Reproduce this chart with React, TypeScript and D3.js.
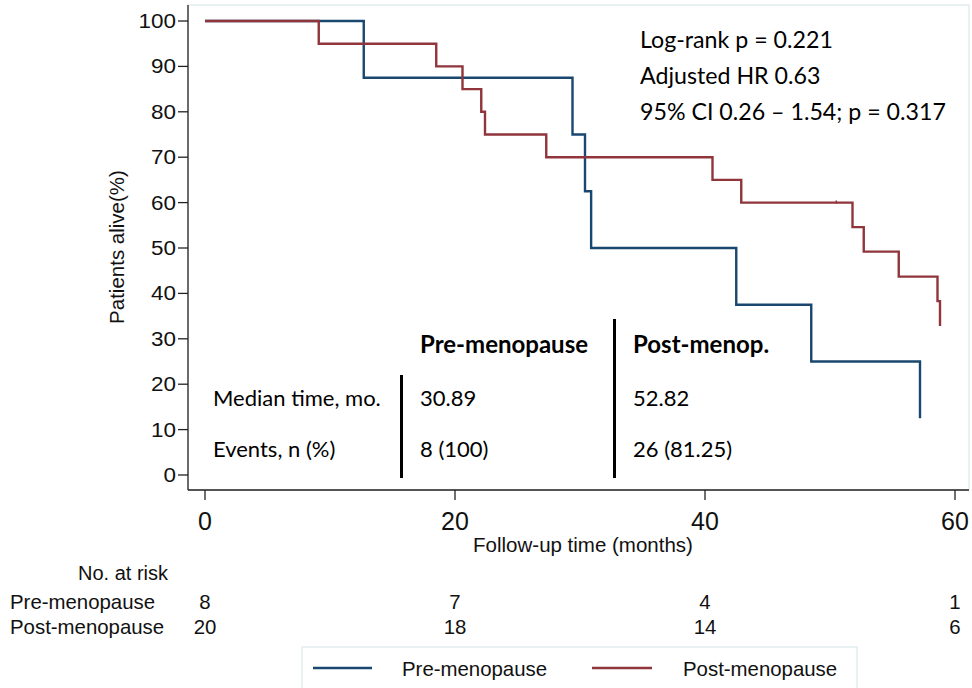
import React from 'react';
import * as d3 from 'd3';

const groups = ['Pre-menopause', 'Post-menopause'];
const preTimes = [0, 12.7, 29.4, 30.4, 30.89, 42.5, 48.5, 57.2];
const preSurv = [100, 87.5, 75, 62.5, 50, 37.5, 25, 12.5];
const postTimes = [0, 9.1, 18.5, 20.6, 22.1, 22.4, 27.3, 40.6, 42.9, 51.8, 52.7, 55.5, 58.6, 58.8];
const postSurv = [100, 95, 90, 85, 80, 75, 70, 65, 60, 54.6, 49.2, 43.7, 38.3, 32.8];
const postCensorTimes = [50.5];
const postCensorSurv = [60];
const xTicks = [0, 20, 40, 60];
const yTicks = [0, 10, 20, 30, 40, 50, 60, 70, 80, 90, 100];
const riskTimes = [0, 20, 40, 60];
const riskPre = [8, 7, 4, 1];
const riskPost = [20, 18, 14, 6];
const statLines = ['Log-rank p = 0.221', 'Adjusted HR 0.63', '95% CI 0.26 \u2013 1.54; p = 0.317'];
const tableRowLabels = ['Median time, mo.', 'Events, n (%)'];
const tableHeaders = ['Pre-menopause', 'Post-menop.'];
const tablePre = ['30.89', '8 (100)'];
const tablePost = ['52.82', '26 (81.25)'];

const BLUE = '#1a476f';
const RED = '#90353b';
const FRAME = '#e3edf0';
const ARIAL = '"Liberation Sans", Arial, sans-serif';
const CAL = 'Lato, "Open Sans", sans-serif';

export default function App() {
  const x = d3.scaleLinear().domain([0, 60]).range([205, 955]);
  const y = d3.scaleLinear().domain([0, 100]).range([475, 21]);
  const line = d3
    .line<[number, number]>()
    .x((d) => x(d[0]))
    .y((d) => y(d[1]))
    .curve(d3.curveStepAfter);
  const preData = preTimes.map((t, i) => [t, preSurv[i]] as [number, number]);
  const postData = postTimes.map((t, i) => [t, postSurv[i]] as [number, number]);

  const left = 188;
  const right = 969;
  const top = 5;
  const bottom = 490;

  return (
    <svg
      width={972}
      height={688}
      style={{ position: 'absolute', left: 0, top: 0, background: '#fff' }}
    >
      <rect x={0} y={0} width={972} height={688} fill="#fff" />
      {/* plot region frame */}
      <rect x={left} y={top} width={right - left} height={bottom - top} fill="#fff" stroke={FRAME} strokeWidth={1.5} />
      {/* axes */}
      <line x1={left} y1={top} x2={left} y2={bottom} stroke="#222" strokeWidth={1.3} />
      <line x1={left} y1={bottom} x2={right} y2={bottom} stroke="#222" strokeWidth={1.3} />
      {yTicks.map((v) => (
        <g key={'y' + v}>
          <line x1={178} x2={left} y1={y(v)} y2={y(v)} stroke="#222" strokeWidth={1.3} />
          <text
            transform={`translate(176,${y(v) + 7}) scale(1.15,1)`}
            textAnchor="end"
            fontFamily={ARIAL}
            fontSize={19.5}
            fill="#111"
          >
            {v}
          </text>
        </g>
      ))}
      {xTicks.map((v) => (
        <g key={'x' + v}>
          <line x1={x(v)} x2={x(v)} y1={bottom} y2={500} stroke="#222" strokeWidth={1.3} />
          <text x={x(v)} y={530} textAnchor="middle" fontFamily={ARIAL} fontSize={25} fill="#111">
            {v}
          </text>
        </g>
      ))}
      <text
        transform={`translate(124,247) rotate(-90)`}
        textAnchor="middle"
        fontFamily={ARIAL}
        fontSize={20.5}
        fill="#111"
      >
        Patients alive(%)
      </text>
      <text x={583} y={552} textAnchor="middle" fontFamily={ARIAL} fontSize={20.5} fill="#111">
        Follow-up time (months)
      </text>

      {/* curves */}
      <path d={line(preData) || ''} fill="none" stroke={BLUE} strokeWidth={2.4} />
      <path d={line(postData) || ''} fill="none" stroke={RED} strokeWidth={2.4} />
      {postCensorTimes.map((t, i) => (
        <line
          key={'c' + i}
          x1={x(t)}
          x2={x(t)}
          y1={y(postCensorSurv[i]) - 2}
          y2={y(postCensorSurv[i]) + 1}
          stroke={RED}
          strokeWidth={1.5}
        />
      ))}

      {/* stats */}
      {statLines.map((s, i) => (
        <text key={'s' + i} x={640} y={48 + i * 36} fontFamily={CAL} fontSize={23.2} fill="#000">
          {s}
        </text>
      ))}

      {/* inner table */}
      {tableHeaders.map((h, i) => (
        <text key={'h' + i} x={i === 0 ? 420 : 633} y={353} fontFamily={CAL} fontWeight={700} fontSize={24} fill="#000">
          {h}
        </text>
      ))}
      {tableRowLabels.map((r, i) => (
        <g key={'r' + i}>
          <text x={213} y={406 + i * 51} fontFamily={CAL} fontSize={22} fill="#000">
            {r}
          </text>
          <text x={420} y={406 + i * 51} fontFamily={CAL} fontSize={22} fill="#000">
            {tablePre[i]}
          </text>
          <text x={633} y={406 + i * 51} fontFamily={CAL} fontSize={22} fill="#000">
            {tablePost[i]}
          </text>
        </g>
      ))}
      <line x1={401.5} x2={401.5} y1={375} y2={478} stroke="#000" strokeWidth={3} />
      <line x1={614.5} x2={614.5} y1={319} y2={478} stroke="#000" strokeWidth={3} />

      {/* risk table */}
      <text x={168} y={580} textAnchor="end" fontFamily={ARIAL} fontSize={20} fill="#111">
        No. at risk
      </text>
      <text x={10} y={609} fontFamily={ARIAL} fontSize={20.4} fill="#111">
        {groups[0]}
      </text>
      <text x={10} y={634} fontFamily={ARIAL} fontSize={20.4} fill="#111">
        {groups[1]}
      </text>
      {riskTimes.map((t, i) => (
        <g key={'k' + i}>
          <text x={x(t)} y={609} textAnchor="middle" fontFamily={ARIAL} fontSize={20.4} fill="#111">
            {riskPre[i]}
          </text>
          <text x={x(t)} y={634} textAnchor="middle" fontFamily={ARIAL} fontSize={20.4} fill="#111">
            {riskPost[i]}
          </text>
        </g>
      ))}

      {/* legend */}
      <rect x={302} y={647} width={555} height={60} fill="#fff" stroke={FRAME} strokeWidth={1.5} />
      <line x1={313} x2={372} y1={668} y2={668} stroke={BLUE} strokeWidth={2.4} />
      <text x={402} y={676} fontFamily={ARIAL} fontSize={20.4} fill="#111">
        {groups[0]}
      </text>
      <line x1={592} x2={652} y1={668} y2={668} stroke={RED} strokeWidth={2.4} />
      <text x={683} y={676} fontFamily={ARIAL} fontSize={20.4} fill="#111">
        {groups[1]}
      </text>
    </svg>
  );
}
